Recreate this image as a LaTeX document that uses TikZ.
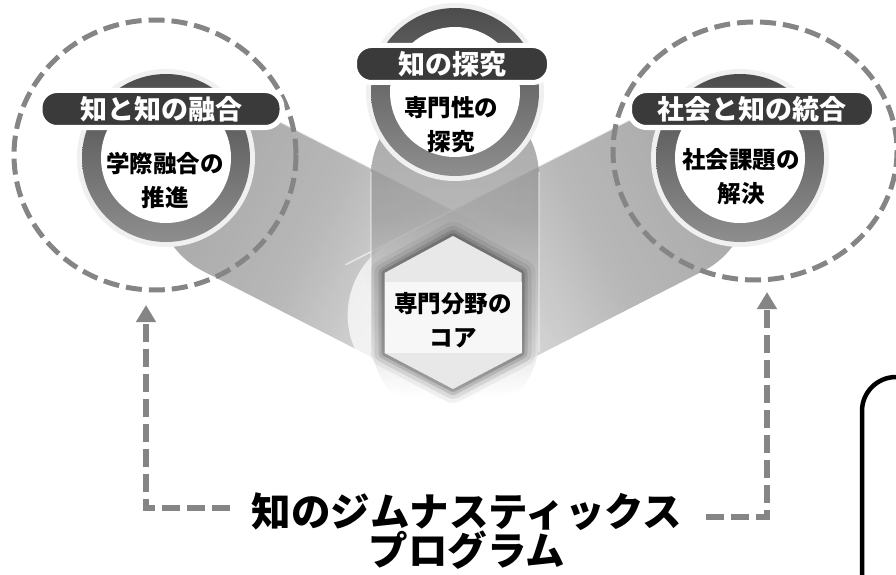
\documentclass[tikz,border=0pt]{standalone}
\usepackage{fontspec}
\newfontfamily\jp{Noto Sans CJK JP}
\usepackage{tikz}
\usetikzlibrary{calc,positioning,shadows,arrows.meta}
\definecolor{pilldark}{HTML}{3A3A3A}
\definecolor{ringtop}{HTML}{4C4C4C}
\definecolor{ringbot}{HTML}{8E8E8E}
\definecolor{beamgray}{HTML}{858585}
\definecolor{beammid}{HTML}{9C9C9C}
\definecolor{beamlight}{HTML}{CFCFCF}
\definecolor{dashgray}{HTML}{858585}
\pgfdeclareverticalshading{beamfade}{100bp}{color(0bp)=(white); color(25bp)=(white);
    color(29bp)=(white); color(40bp)=(beamlight); color(56bp)=(beammid);
    color(75bp)=(beamgray); color(100bp)=(beamgray)}

\begin{document}
\begin{tikzpicture}[
    x=1pt, y=-1pt,
    pill/.style={rectangle, rounded corners=17pt, fill=pilldark, draw=white,
                 line width=5pt, minimum height=37pt, text=white,
                 font=\jp\bfseries\fontsize{27}{27}\selectfont,
                 drop shadow={opacity=0.25, shadow xshift=0pt, shadow yshift=-2pt}},
    ctext/.style={align=center, text=black,
                  font=\jp\bfseries\fontsize{23.5}{34}\selectfont},
    beam/.style={shading=beamfade, opacity=0.72, rounded corners=84pt},
    beamedge/.style={draw=white, opacity=0.6, line width=1.5pt},
    zone/.style={draw=dashgray, line width=5pt, dash pattern=on 16pt off 7pt},
    flow/.style={draw=dashgray, line width=6pt, dash pattern=on 18pt off 7pt,
                 -{Triangle[length=17pt, width=19pt]}},
    halo/.style={fill=gray!12},
    ring/.style={top color=ringtop, bottom color=ringbot}
]
    \useasboundingbox (0,0) rectangle (896,575);

    % beams
    \begin{scope}[shift={(166,158)}, rotate=-27]
        \shade[beam, shading angle=63] (0,-84) rectangle (430,84);
        \draw[beamedge] (0,-84) -- (400,-84);
    \end{scope}
    \begin{scope}[shift={(740,158)}, rotate=207]
        \shade[beam, shading angle=-63] (0,-84) rectangle (430,84);
        \draw[beamedge] (0,84) -- (400,84);
    \end{scope}
    \begin{scope}[shift={(455,92)}, rotate=-90]
        \shade[beam, shading angle=0] (0,-84) rectangle (330,84);
        \draw[beamedge, opacity=0.35] (80,-84) -- (260,-84);
        \draw[beamedge, opacity=0.35] (80,84) -- (260,84);
    \end{scope}

    % rings
    \foreach \cx/\cy in {166/158, 455/92, 740/158}{
        \fill[halo] (\cx,\cy) circle[radius=89];
        \shade[ring] (\cx,\cy) circle[radius=84];
        \fill[white] (\cx,\cy) circle[radius=65];
    }

    \node[ctext] (fusionText) at (165,180) {学際融合の\\推進};
    \node[ctext] (inquiryText) at (451,125) {専門性の\\探究};
    \node[ctext] (societyText) at (741,177) {社会課題の\\解決};

    % core hexagon
    \coordinate (h1) at (453,236);
    \coordinate (h2) at (521.5,273);
    \coordinate (h3) at (521.5,353);
    \coordinate (h4) at (453,389);
    \coordinate (h5) at (384.5,353);
    \coordinate (h6) at (384.5,273);
    \foreach \w/\o in {28/0.05, 20/0.08, 12/0.12, 6/0.17}{
        \draw[line width=\w pt, black, opacity=\o, line join=round]
            (h1) -- (h2) -- (h3) -- (h4) -- (h5) -- (h6) -- cycle;
    }
    \fill[gray!18] (h1) -- (h2) -- (h3) -- (h4) -- (h5) -- (h6) -- cycle;
    \fill[gray!6] (384.5,282) rectangle (521.5,353);
    \node[ctext] (coreText) at (453,320) {専門分野の\\コア};

    % dashed zones
    \draw[zone] (155,155) ellipse[x radius=141, y radius=135];
    \draw[zone] (755,151) ellipse[x radius=142, y radius=129];

    % titles
    \node[pill, minimum width=242pt] (fusion) at (161,109) {知と知の融合};
    \node[pill, minimum width=195pt] (inquiry) at (452,64) {知の探究};
    \node[pill, minimum width=245pt] (society) at (752,109) {社会と知の統合};

    % program
    \node[align=center, font=\jp\bfseries\fontsize{39.5}{38}\selectfont]
        (program) at (467,531) {知のジムナスティックス\\プログラム};

    \coordinate (leftFoot) at (230,508);
    \coordinate (leftTip) at (146,305);
    \coordinate (rightFoot) at (706,517);
    \coordinate (rightTip) at (767,292);
    \draw[flow] (leftFoot) -| (leftTip);
    \draw[flow] (rightFoot) -| (rightTip);

    \draw[line width=4.5pt, rounded corners=34pt] (862,600) -- (862,377) -- (940,377);

\end{tikzpicture}
\end{document}
